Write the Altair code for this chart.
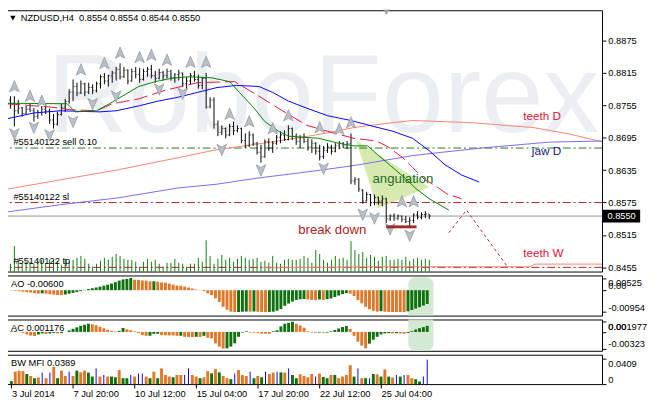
import json
import altair as alt
import pandas as pd

FONT = "Liberation Sans"

# ---------------- data ----------------
DATE_TICKS = [0, 16, 32, 48, 64, 80, 96]
DATE_LABELS = ["3 Jul 2014", "7 Jul 20:00", "10 Jul 12:00", "15 Jul 04:00",
               "17 Jul 20:00", "22 Jul 12:00", "25 Jul 04:00"]

OPEN = [0.8760, 0.8765, 0.8758, 0.8745, 0.8750, 0.8740, 0.8748, 0.8745, 0.8735, 0.8742,
        0.8748, 0.8744, 0.8728, 0.8720, 0.8738, 0.8752, 0.8762, 0.8780, 0.8790, 0.8778,
        0.8795, 0.8780, 0.8788, 0.8782, 0.8795, 0.8808, 0.8800, 0.8810, 0.8815, 0.8822,
        0.8808, 0.8820, 0.8800, 0.8818, 0.8812, 0.8803, 0.8818, 0.8822, 0.8810, 0.8805,
        0.8816, 0.8810, 0.8818, 0.8806, 0.8812, 0.8815, 0.8795, 0.8800, 0.8810, 0.8803,
        0.8792, 0.8805, 0.8752, 0.8765, 0.8720, 0.8705, 0.8712, 0.8700, 0.8716, 0.8708,
        0.8712, 0.8690, 0.8680, 0.8700, 0.8685, 0.8668, 0.8660, 0.8688, 0.8676, 0.8685,
        0.8696, 0.8700, 0.8692, 0.8712, 0.8698, 0.8688, 0.8695, 0.8688, 0.8678, 0.8685,
        0.8670, 0.8660, 0.8672, 0.8678, 0.8670, 0.8680, 0.8685, 0.8680, 0.8684, 0.8615,
        0.8618, 0.8598, 0.8578, 0.8590, 0.8575, 0.8585, 0.8578, 0.8582, 0.8545, 0.8550,
        0.8546, 0.8550, 0.8544, 0.8540, 0.8542, 0.8552, 0.8548, 0.8553, 0.8554]
HIGH = [0.8770, 0.8772, 0.8772, 0.8765, 0.8752, 0.8754, 0.8758, 0.8750, 0.8747, 0.8754,
        0.8758, 0.8749, 0.8739, 0.8743, 0.8758, 0.8767, 0.8785, 0.8803, 0.8797, 0.8801,
        0.8797, 0.8797, 0.8794, 0.8799, 0.8812, 0.8815, 0.8812, 0.8819, 0.8826, 0.8833,
        0.8826, 0.8822, 0.8823, 0.8826, 0.8824, 0.8823, 0.8826, 0.8830, 0.8819, 0.8823,
        0.8819, 0.8823, 0.8821, 0.8815, 0.8821, 0.8816, 0.8808, 0.8815, 0.8819, 0.8812,
        0.8808, 0.8815, 0.8770, 0.8770, 0.8727, 0.8718, 0.8714, 0.8721, 0.8725, 0.8718,
        0.8714, 0.8703, 0.8707, 0.8703, 0.8687, 0.8682, 0.8692, 0.8694, 0.8689, 0.8700,
        0.8707, 0.8709, 0.8718, 0.8714, 0.8703, 0.8700, 0.8703, 0.8694, 0.8692, 0.8687,
        0.8682, 0.8680, 0.8685, 0.8682, 0.8685, 0.8689, 0.8687, 0.8689, 0.8703, 0.8622,
        0.8620, 0.8600, 0.8595, 0.8591, 0.8590, 0.8586, 0.8588, 0.8584, 0.8553, 0.8555,
        0.8553, 0.8551, 0.8550, 0.8548, 0.8555, 0.8559, 0.8557, 0.8559, 0.8554]
LOW = [0.8752, 0.8749, 0.8716, 0.8739, 0.8734, 0.8739, 0.8743, 0.8725, 0.8730, 0.8736,
       0.8739, 0.8721, 0.8712, 0.8718, 0.8736, 0.8743, 0.8758, 0.8763, 0.8772, 0.8776,
       0.8772, 0.8776, 0.8776, 0.8779, 0.8786, 0.8794, 0.8790, 0.8797, 0.8801, 0.8803,
       0.8806, 0.8794, 0.8799, 0.8805, 0.8797, 0.8801, 0.8808, 0.8805, 0.8797, 0.8803,
       0.8801, 0.8805, 0.8801, 0.8797, 0.8801, 0.8790, 0.8785, 0.8794, 0.8799, 0.8786,
       0.8785, 0.8749, 0.8750, 0.8712, 0.8698, 0.8700, 0.8694, 0.8698, 0.8700, 0.8705,
       0.8685, 0.8676, 0.8678, 0.8680, 0.8664, 0.8649, 0.8658, 0.8671, 0.8667, 0.8682,
       0.8685, 0.8689, 0.8690, 0.8691, 0.8682, 0.8676, 0.8685, 0.8671, 0.8667, 0.8664,
       0.8653, 0.8656, 0.8667, 0.8664, 0.8668, 0.8674, 0.8676, 0.8674, 0.8609, 0.8608,
       0.8595, 0.8573, 0.8577, 0.8568, 0.8570, 0.8571, 0.8568, 0.8537, 0.8541, 0.8541,
       0.8543, 0.8539, 0.8537, 0.8528, 0.8537, 0.8544, 0.8544, 0.8546, 0.8544]
CLOSE = [0.8765, 0.8758, 0.8745, 0.8750, 0.8740, 0.8748, 0.8745, 0.8735, 0.8742, 0.8748,
         0.8744, 0.8728, 0.8720, 0.8738, 0.8752, 0.8762, 0.8780, 0.8790, 0.8778, 0.8795,
         0.8780, 0.8788, 0.8782, 0.8795, 0.8808, 0.8800, 0.8810, 0.8815, 0.8822, 0.8808,
         0.8820, 0.8800, 0.8818, 0.8812, 0.8803, 0.8818, 0.8822, 0.8810, 0.8805, 0.8816,
         0.8810, 0.8818, 0.8806, 0.8812, 0.8815, 0.8795, 0.8800, 0.8810, 0.8803, 0.8792,
         0.8805, 0.8752, 0.8765, 0.8720, 0.8705, 0.8712, 0.8700, 0.8716, 0.8708, 0.8712,
         0.8690, 0.8680, 0.8700, 0.8685, 0.8668, 0.8660, 0.8688, 0.8676, 0.8685, 0.8696,
         0.8700, 0.8692, 0.8712, 0.8698, 0.8688, 0.8695, 0.8688, 0.8678, 0.8685, 0.8670,
         0.8660, 0.8672, 0.8678, 0.8670, 0.8680, 0.8685, 0.8680, 0.8684, 0.8615, 0.8618,
         0.8600, 0.8578, 0.8590, 0.8575, 0.8585, 0.8578, 0.8582, 0.8545, 0.8550, 0.8546,
         0.8550, 0.8544, 0.8540, 0.8542, 0.8552, 0.8548, 0.8553, 0.8554, 0.8550]
VOLUME = [10, 8, 26, 12, 8, 10, 10, 8, 11, 12, 8, 12, 12, 10, 7, 13, 10, 12, 14, 16,
          13, 8, 5, 8, 11, 14, 12, 15, 18, 16, 13, 12, 12, 10, 5, 10, 13, 10, 12, 8,
          5, 9, 9, 13, 9, 8, 5, 8, 8, 14, 10, 32, 16, 8, 13, 17, 12, 14, 10, 13,
          16, 14, 12, 13, 14, 10, 11, 9, 16, 9, 8, 12, 13, 12, 12, 13, 16, 14, 9, 22,
          18, 12, 9, 12, 16, 13, 14, 12, 31, 22, 18, 20, 14, 17, 15, 11, 15, 16, 12, 12,
          13, 12, 15, 11, 13, 14, 12, 13, 12]

AO = [-0.00013, -0.00026, -0.00043, -0.00064, -0.00085, -0.00106, -0.00128, -0.00149, -0.00136, -0.00153,
      -0.00179, -0.00196, -0.00213, -0.00217, -0.00187, -0.00153, -0.00119, -0.00085, -0.00043, 0.00013,
      0.00051, 0.00085, 0.00119, 0.00153, 0.00196, 0.00238, 0.00289, 0.00349, 0.00417, 0.00468,
      0.00489, 0.00525, 0.00455, 0.0045, 0.00425, 0.00412, 0.00383, 0.00387, 0.0037, 0.0034,
      0.00327, 0.00285, 0.00242, 0.002, 0.00191, 0.00157, 0.00115, 0.00072, 0.0003, -0.00009,
      -0.00043, -0.0014, -0.00213, -0.00353, -0.0051, -0.00723, -0.0085, -0.00935, -0.00954, -0.0095,
      -0.00935, -0.0093, -0.00935, -0.00927, -0.0094, -0.00948, -0.00952, -0.00945, -0.00935, -0.00893,
      -0.0082, -0.0068, -0.00582, -0.00497, -0.00425, -0.00395, -0.00383, -0.00404, -0.00425, -0.00434,
      -0.00404, -0.00425, -0.00395, -0.00361, -0.00298, -0.00234, -0.0017, -0.00128, -0.00149, -0.00255,
      -0.00425, -0.00574, -0.00723, -0.00829, -0.00893, -0.00935, -0.00914, -0.00935, -0.00944, -0.00948,
      -0.0095, -0.00952, -0.00954, -0.0092, -0.0086, -0.008, -0.0074, -0.0067, -0.006]
AC = [0.0001, 0.0002, 0.00004, -0.0002, -0.0005, -0.0007, -0.0008, -0.0005, -0.0003, -0.0004,
      -0.0003, -0.0002, -0.0003, -0.0002, 0.0, 0.0003, 0.0006, 0.0009, 0.0012, 0.0014,
      0.0016, 0.0015, 0.0013, 0.001, 0.0007, 0.0004, 0.0002, 0.0001, 0.0002, 0.00076,
      0.00051, 0.00032, 0.00013, -0.00019, -0.00063, -0.00076, -0.00074, -0.00038, -0.00036, -0.00063,
      -0.00065, -0.00067, -0.00068, -0.00076, -0.00074, -0.00095, -0.00097, -0.00099, -0.00095, -0.00097,
      -0.00076, -0.00114, -0.00127, -0.00222, -0.00285, -0.00323, -0.00319, -0.00285, -0.00222, -0.00095,
      -0.00013, 0.00013, -0.00013, -0.00015, -0.00017, -0.00032, -0.00034, -0.00036, 0.00013, 0.00032,
      0.00108, 0.00158, 0.00177, 0.001977, 0.00158, 0.00127, 0.00082, 0.00013, -0.00013, -0.00015,
      -0.00013, -0.00015, -0.00013, 0.00013, 0.00038, 0.00067, 0.00095, 0.00114, 0.00057, -0.00076,
      -0.0019, -0.00266, -0.0032, -0.00228, -0.00152, -0.00095, -0.00048, -0.00029, -0.00023, -0.0003,
      -0.00025, -0.0003, -0.00034, -0.00019, 0.00015, 0.00048, 0.00072, 0.00093, 0.001176]
MFI = [0.0047, 0.0198, 0.0214, 0.0207, 0.0161, 0.0129, 0.0094, 0.0105, 0.0183, 0.0094,
       0.0183, 0.0276, 0.0094, 0.0214, 0.0129, 0.0198, 0.0129, 0.0214, 0.0187, 0.0214,
       0.0183, 0.012, 0.025, 0.012, 0.0145, 0.012, 0.012, 0.0109, 0.0223, 0.0094,
       0.0094, 0.0145, 0.012, 0.0167, 0.0167, 0.012, 0.0094, 0.0198, 0.0094, 0.025,
       0.0145, 0.012, 0.0109, 0.0145, 0.0145, 0.0145, 0.025, 0.0145, 0.012, 0.0094,
       0.0109, 0.0207, 0.0172, 0.0239, 0.0187, 0.0129, 0.0094, 0.0078, 0.0167, 0.0223,
       0.0145, 0.0129, 0.0198, 0.0094, 0.0129, 0.0109, 0.0198, 0.0161, 0.0183, 0.0198,
       0.0187, 0.0183, 0.025, 0.0145, 0.0094, 0.0156, 0.0129, 0.0109, 0.0161, 0.012,
       0.0167, 0.0114, 0.0094, 0.0145, 0.0145, 0.0094, 0.012, 0.0145, 0.0301, 0.012,
       0.025, 0.0094, 0.0094, 0.0094, 0.0161, 0.0156, 0.012, 0.0234, 0.012, 0.0105,
       0.0145, 0.012, 0.0145, 0.0145, 0.0094, 0.0078, 0.0042, 0.012, 0.0389]
# n = none, g = green, f = fade, k = fake, s = squat
MFI_STATE = list("ngggfsfsks" "kgfssksfgg" "ffksksffgf" "fkskksfgfg" "sgfggkkssf"
                 "sgfgfgsfkg" "sskfsfkggk" "fskffggsgk" "gffgfsgggf" "ksfkfgfgfs"
                 "kfkssffkk")

PRICE_TICKS = [0.8455, 0.8515, 0.8575, 0.8635, 0.8695, 0.8755, 0.8815, 0.8875]
LAST_PRICE = 0.8550
SELL_PRICE = 0.8676
SL_PRICE = 0.8575
TP_PRICE = 0.8455

LIPS_I = [0, 15.5, 17.5, 23, 26.25, 30.5, 33.75, 38, 42, 46.25, 52.5, 57, 59.5, 63, 66, 69.5,
          72, 79.75, 84.75, 88.75, 92.25, 94.75, 98, 101.5, 104.75, 108, 113]
LIPS_P = [0.8759, 0.8758, 0.8743, 0.8745, 0.8758, 0.8776, 0.8790, 0.8799, 0.8805, 0.8808, 0.8806,
          0.8799, 0.8779, 0.8752, 0.8725, 0.8707, 0.8698, 0.8694, 0.8685, 0.8680, 0.8680, 0.8664,
          0.8644, 0.8622, 0.8600, 0.8582, 0.8561]
TEETH_I = [0, 11.25, 16.25, 23, 27, 33.75, 40.5, 48.75, 58.25, 64.5, 70.5, 76.75, 82, 88.75,
           94.5, 97.5, 101.25, 103.75, 106.75, 110, 112.5, 116.25]
TEETH_P = [0.8758, 0.8752, 0.8747, 0.8745, 0.8758, 0.8767, 0.8783, 0.8797, 0.8799, 0.8772, 0.8745,
           0.8718, 0.8707, 0.8694, 0.8689, 0.8678, 0.8658, 0.8640, 0.8618, 0.8604, 0.8591, 0.8582]
JAW_I = [0, 7, 13.75, 23.75, 28, 33.75, 38.75, 43.75, 48.75, 53.75, 58.75, 64.5, 68, 72, 77, 82,
         88, 93.75, 98.75, 103.75, 108, 112, 116.25, 120.75]
JAW_P = [0.8730, 0.8741, 0.8745, 0.8743, 0.8745, 0.8754, 0.8763, 0.8770, 0.8779, 0.8788, 0.8792,
         0.8790, 0.8779, 0.8763, 0.8749, 0.8736, 0.8727, 0.8716, 0.8707, 0.8694, 0.8671, 0.8645,
         0.8626, 0.8613]
TEETH_D_I = [-0.5, 13.75, 28.75, 43.75, 53.75, 63.75, 73.75, 81.25, 88.75, 98.75, 103.75, 118.75,
             134.5, 143.75, 152.5]
TEETH_D_P = [0.8599, 0.8617, 0.8636, 0.8658, 0.8673, 0.8683, 0.8694, 0.8703, 0.8714, 0.8723, 0.8727,
             0.8723, 0.8714, 0.8702, 0.8687]
JAW_D_I = [-0.5, 13.75, 28.75, 43.75, 53.75, 63.75, 73.75, 81.25, 90, 103.75, 109.75, 121.25,
           138.75, 152.5]
JAW_D_P = [0.8557, 0.8571, 0.8584, 0.8602, 0.8609, 0.8620, 0.8629, 0.8636, 0.8645, 0.8662, 0.8667,
           0.8676, 0.8687, 0.8689]
TEETH_W_I = [65.5, 93.75, 133.75, 135, 152.5]
TEETH_W_P = [0.8454, 0.8456, 0.8456, 0.8461, 0.8461]

UP_I = [2, 6, 9, 19, 25, 29, 34, 37, 41, 47, 51, 57, 62, 68, 72, 80, 85, 88, 101, 104]
UP_P = [0.8790, 0.8772, 0.8763, 0.8821, 0.8833, 0.8852, 0.8844, 0.8848, 0.8839, 0.8835, 0.8835,
        0.8739, 0.8725, 0.8712, 0.8736, 0.8714, 0.8711, 0.8723, 0.8577, 0.8577]
DN_I = [2, 7, 11, 17, 22, 28, 39, 45, 55, 65, 81, 91, 94, 98, 103]
DN_P = [0.8702, 0.8714, 0.8700, 0.8725, 0.8758, 0.8772, 0.8785, 0.8777, 0.8673, 0.8635, 0.8638,
        0.8553, 0.8546, 0.8526, 0.8514]

FORECAST_I = [113, 117.5, 128]
FORECAST_P = [0.8519, 0.8561, 0.8456]
BREAK_I = [97, 104.75]
BREAK_P = 0.8530
TRI_I = [89.25, 94.75, 108]
TRI_TOP = [0.8691, 0.8665, 0.8604]
TRI_BOT = [0.8691, 0.8564, 0.8604]

ORDER_LABELS = ["#55140122 sell 0.10", "#55140122 sl", "#55140122 tp"]
ORDER_PRICES = [SELL_PRICE, SL_PRICE, TP_PRICE]

N = len(CLOSE)
IDX = list(range(N))

# ---------------- scales / helpers ----------------
W = 610
xs = alt.Scale(domain=[-0.375, 152.125], nice=False, zero=False)
ys_main = alt.Scale(domain=[0.84472, 0.89312], nice=False, zero=False)
main_axis = alt.Axis(orient="right", values=PRICE_TICKS, format=".4f", tickSize=4,
                     labelPadding=2, labelOverlap=False, title=None, domain=False, grid=False)


def X(field="i"):
    return alt.X(f"{field}:Q", scale=xs, axis=None)


def YM(field):
    return alt.Y(f"{field}:Q", scale=ys_main, axis=main_axis)


def line_layer(ii, pp, color, dash=None, width=1.0):
    df = pd.DataFrame({"i": ii, "p": pp})
    kw = dict(color=color, strokeWidth=width, clip=True)
    if dash:
        kw["strokeDash"] = dash
    return alt.Chart(df).mark_line(**kw).encode(x=X(), y=YM("p"), order="i:Q")


candles = pd.DataFrame({"i": IDX, "open": OPEN, "high": HIGH, "low": LOW, "close": CLOSE,
                        "vol": VOLUME})

# ---------------- main panel ----------------
watermark = alt.Chart(pd.DataFrame({"t": ["RoboForex"]})).mark_text(
    font=FONT, fontSize=114, color="#ebeef2", align="center", baseline="alphabetic"
).encode(x=alt.value(325), y=alt.value(124), text="t:N")

tri = alt.Chart(pd.DataFrame({"i": TRI_I, "top": TRI_TOP, "bot": TRI_BOT})).mark_area(
    color="#cfe6a2", opacity=0.85).encode(x=X(), y=YM("top"), y2="bot:Q")

hlines = []
for price, color, dash in [(SELL_PRICE, "#1f7a1f", [8, 3, 2, 3]),
                           (SL_PRICE, "#a52222", [8, 3, 2, 3]),
                           (TP_PRICE, "#a52222", [8, 3, 2, 3])]:
    hlines.append(alt.Chart(pd.DataFrame({"p": [price]})).mark_rule(
        color=color, strokeWidth=1, strokeDash=dash).encode(y=YM("p")))
last_line = alt.Chart(pd.DataFrame({"p": [LAST_PRICE]})).mark_rule(
    color="#8a949e", strokeWidth=1).encode(y=YM("p"))

teeth_d = line_layer(TEETH_D_I, TEETH_D_P, "#fa8072")
jaw_d = line_layer(JAW_D_I, JAW_D_P, "#7b68ee")
teeth_w = line_layer(TEETH_W_I, TEETH_W_P, "#fa8072")

hl = alt.Chart(candles).mark_rule(color="black", strokeWidth=1).encode(
    x=X(), y=YM("low"), y2="high:Q")
op = alt.Chart(candles).mark_tick(orient="horizontal", size=1, thickness=1, xOffset=-1,
                                  color="black").encode(x=X(), y=YM("open"))
cl = alt.Chart(candles).mark_tick(orient="horizontal", size=1, thickness=1, xOffset=1,
                                  color="black").encode(x=X(), y=YM("close"))

jaw = line_layer(JAW_I, JAW_P, "#0000ff")
teeth = line_layer(TEETH_I, TEETH_P, "#e0143c", dash=[14, 5])
lips = line_layer(LIPS_I, LIPS_P, "#008000")

UP_PATH = "M0,-1L0.8,0.9L0,0.45L-0.8,0.9Z"
DN_PATH = "M0,1L0.8,-0.9L0,-0.45L-0.8,-0.9Z"
up_arrows = alt.Chart(pd.DataFrame({"i": UP_I, "p": UP_P})).mark_point(
    shape=UP_PATH, filled=True, size=150, color="#b9bfc7", opacity=1,
    stroke="#8d949d", strokeWidth=0.7).encode(x=X(), y=YM("p"))
dn_arrows = alt.Chart(pd.DataFrame({"i": DN_I, "p": DN_P})).mark_point(
    shape=DN_PATH, filled=True, size=150, color="#b9bfc7", opacity=1,
    stroke="#8d949d", strokeWidth=0.7).encode(x=X(), y=YM("p"))

forecast = line_layer(FORECAST_I, FORECAST_P, "#b22222", dash=[3, 3])
brk = alt.Chart(pd.DataFrame({"i": [BREAK_I[0]], "i2": [BREAK_I[1]], "p": [BREAK_P]})).mark_rule(
    color="#a52a2a", strokeWidth=3).encode(x=X(), x2="i2:Q", y=YM("p"))

order_text = alt.Chart(pd.DataFrame({"i": [1.75] * 3, "p": ORDER_PRICES, "t": ORDER_LABELS})).mark_text(
    font=FONT, fontSize=9.5, color="black", align="left", baseline="bottom", dy=-1
).encode(x=X(), y=YM("p"), text="t:N")


def note(text, i, p, color, size):
    return alt.Chart(pd.DataFrame({"i": [i], "p": [p], "t": [text]})).mark_text(
        font=FONT, fontSize=size, color=color, align="left", baseline="middle"
    ).encode(x=X(), y=YM("p"), text="t:N")


notes = [note("teeth D", 132, 0.8736, "#dc143c", 12),
         note("jaw D", 134.2, 0.8670, "#191970", 12),
         note("teeth W", 132, 0.8481, "#dc143c", 12),
         note("angulation", 93.5, 0.8618, "#1e6b1e", 13.5),
         note("break down", 74.5, 0.8524, "#b22222", 13.5)]

shift_marker = alt.Chart(pd.DataFrame({"i": [97]})).mark_point(
    shape="triangle-down", filled=True, size=40, color="#a0a0a0", opacity=1
).encode(x=X(), y=alt.value(2))

price_box = alt.Chart(pd.DataFrame({"p": [LAST_PRICE]})).mark_rule(
    color="black", strokeWidth=13).encode(x=alt.value(611), x2=alt.value(649), y=YM("p"))
price_txt = alt.Chart(pd.DataFrame({"p": [LAST_PRICE], "t": [f"{LAST_PRICE:.4f}"]})).mark_text(
    font=FONT, fontSize=9.5, color="white", align="center", baseline="middle"
).encode(x=alt.value(630), y=YM("p"), text="t:N")

title_txt = alt.Chart(pd.DataFrame({"t": [
    f"NZDUSD,H4\u00a0 {OPEN[-1]:.4f} {HIGH[-1]:.4f} {LOW[-1]:.4f} {CLOSE[-1]:.4f}"]})).mark_text(
    font=FONT, fontSize=9.5, color="black", align="left", baseline="middle"
).encode(x=alt.value(16), y=alt.value(8), text="t:N")
title_tri = alt.Chart(pd.DataFrame({"t": [0]})).mark_point(
    shape="triangle-down", filled=True, size=30, color="black", opacity=1
).encode(x=alt.value(8), y=alt.value(8))

vol = alt.Chart(candles).mark_rule(color="#0e7d0e", strokeWidth=1).encode(
    x=X(), y=alt.Y("vol:Q", scale=alt.Scale(domain=[0, 267], nice=False), axis=None),
    y2=alt.datum(0))

price_layers = alt.layer(
    watermark, tri, *hlines, last_line, teeth_d, jaw_d, teeth_w,
    hl, op, cl, jaw, teeth, lips, up_arrows, dn_arrows, forecast, brk,
    order_text, *notes, shift_marker, price_box, price_txt, title_txt, title_tri)

main = alt.layer(vol, price_layers).resolve_scale(y="independent").properties(width=W, height=267)

# ---------------- indicator panels ----------------
def cond_baseline():
    return {"condition": {"test": "datum.value > 0", "value": "top"}, "value": "bottom"}


def ind_axis(values, expr):
    return alt.Axis(orient="right", values=values, labelExpr=expr, tickSize=4, labelPadding=2,
                    labelOverlap=False, title=None, domain=False, grid=False,
                    labelBaseline=cond_baseline())


def panel_label(text):
    return alt.Chart(pd.DataFrame({"t": [text]})).mark_text(
        font=FONT, fontSize=9.5, color="black", align="left", baseline="middle"
    ).encode(x=alt.value(6), y=alt.value(9), text="t:N")


HL_I = [103.1, 109.6]

# AO
ao_scale = alt.Scale(domain=[-0.01105, 0.0064], nice=False, zero=False)
ao_dir = ["down"] + ["up" if AO[k] > AO[k - 1] else "down" for k in range(1, N)]
ao_df = pd.DataFrame({"i": IDX, "v": AO, "dir": ao_dir})
ao_axis = ind_axis([0.00525, 0, -0.00954],
                   "datum.value == 0 ? '0.00' : (datum.value < 0 ? '-' + format(-datum.value, '.5f') : format(datum.value, '.5f'))")
ao_hl = alt.Chart(pd.DataFrame({"i": [HL_I[0]], "i2": [HL_I[1]], "a": [0.0056], "b": [-0.01105]})).mark_rect(
    color="#cfe7cf", opacity=0.9, cornerRadiusTopLeft=7, cornerRadiusTopRight=7
).encode(x=X(), x2="i2:Q", y=alt.Y("a:Q", scale=ao_scale, axis=ao_axis), y2="b:Q")
ao_bars = alt.Chart(ao_df).mark_bar(size=3).encode(
    x=X(), y=alt.Y("v:Q", scale=ao_scale, axis=ao_axis), y2=alt.datum(0),
    color=alt.Color("dir:N", scale=alt.Scale(domain=["up", "down"], range=["#0f720f", "#e0782a"]),
                    legend=None))
ao_chart = alt.layer(ao_hl, ao_bars, panel_label(f"AO {AO[-1]:.5f}")).properties(width=W, height=41)

# AC
ac_scale = alt.Scale(domain=[-0.00367, 0.00241], nice=False, zero=False)
ac_dir = ["up"] + ["up" if AC[k] > AC[k - 1] else "down" for k in range(1, N)]
ac_df = pd.DataFrame({"i": IDX, "v": AC, "dir": ac_dir})
ac_axis = ind_axis([0.001977, 0, -0.00323],
                   "datum.value == 0 ? '0.00' : (datum.value < 0 ? '-' + format(-datum.value, '.5f') : format(datum.value, '.6f'))")
ac_hl = alt.Chart(pd.DataFrame({"i": [HL_I[0]], "i2": [HL_I[1]], "a": [0.00241], "b": [-0.00367]})).mark_rect(
    color="#cfe7cf", opacity=0.9, cornerRadiusBottomLeft=7, cornerRadiusBottomRight=7
).encode(x=X(), x2="i2:Q", y=alt.Y("a:Q", scale=ac_scale, axis=ac_axis), y2="b:Q")
ac_bars = alt.Chart(ac_df).mark_bar(size=3).encode(
    x=X(), y=alt.Y("v:Q", scale=ac_scale, axis=ac_axis), y2=alt.datum(0),
    color=alt.Color("dir:N", scale=alt.Scale(domain=["up", "down"], range=["#0a780a", "#e0183e"]),
                    legend=None))
ac_chart = alt.layer(ac_hl, ac_bars, panel_label(f"AC {AC[-1]:.6f}")).properties(width=W, height=32)

# BW MFI
bw_scale = alt.Scale(domain=[0, 0.0468], nice=False, zero=False)
bw_df = pd.DataFrame({"i": IDX, "v": MFI, "s": MFI_STATE})
x_axis = alt.Axis(values=DATE_TICKS,
                  labelExpr=json.dumps(DATE_LABELS) + "[round(datum.value / 16)]",
                  labelAlign="left", labelBaseline="top", tickSize=4, labelPadding=1,
                  labelOverlap=False, labelFlush=False, title=None, domain=False, grid=False)
bw_axis = ind_axis([0.0409, 0], "datum.value == 0 ? '0' : format(datum.value, '.4f')")
bw_bars = alt.Chart(bw_df).transform_filter("datum.s != 'k'").mark_bar(size=3).encode(
    x=alt.X("i:Q", scale=xs, axis=x_axis),
    y=alt.Y("v:Q", scale=bw_scale, axis=bw_axis), y2=alt.datum(0),
    color=alt.Color("s:N", scale=alt.Scale(domain=["n", "g", "f", "s"],
                                           range=["#7a7a7a", "#2e8b57", "#b8860b", "#dc143c"]),
                    legend=None))
bw_fake = alt.Chart(bw_df).transform_filter("datum.s == 'k'").mark_rule(
    color="#0000ff", strokeWidth=1).encode(
    x=alt.X("i:Q", scale=xs, axis=x_axis),
    y=alt.Y("v:Q", scale=bw_scale, axis=bw_axis), y2=alt.datum(0))
bw_chart = alt.layer(bw_bars, bw_fake, panel_label(f"BW MFI {MFI[-1]:.4f}")).properties(width=W, height=30)

chart = alt.vconcat(main, ao_chart, ac_chart, bw_chart, spacing=2).properties(
    padding={"left": -4, "top": -4, "right": 0, "bottom": 0}
).configure(background="white").configure_view(
    stroke="black", strokeWidth=1
).configure_axis(
    labelFont=FONT, labelFontSize=9.5, labelColor="black", tickColor="black", tickWidth=1
)

chart.save("out.html", embed_options={"renderer": "svg", "actions": False})
